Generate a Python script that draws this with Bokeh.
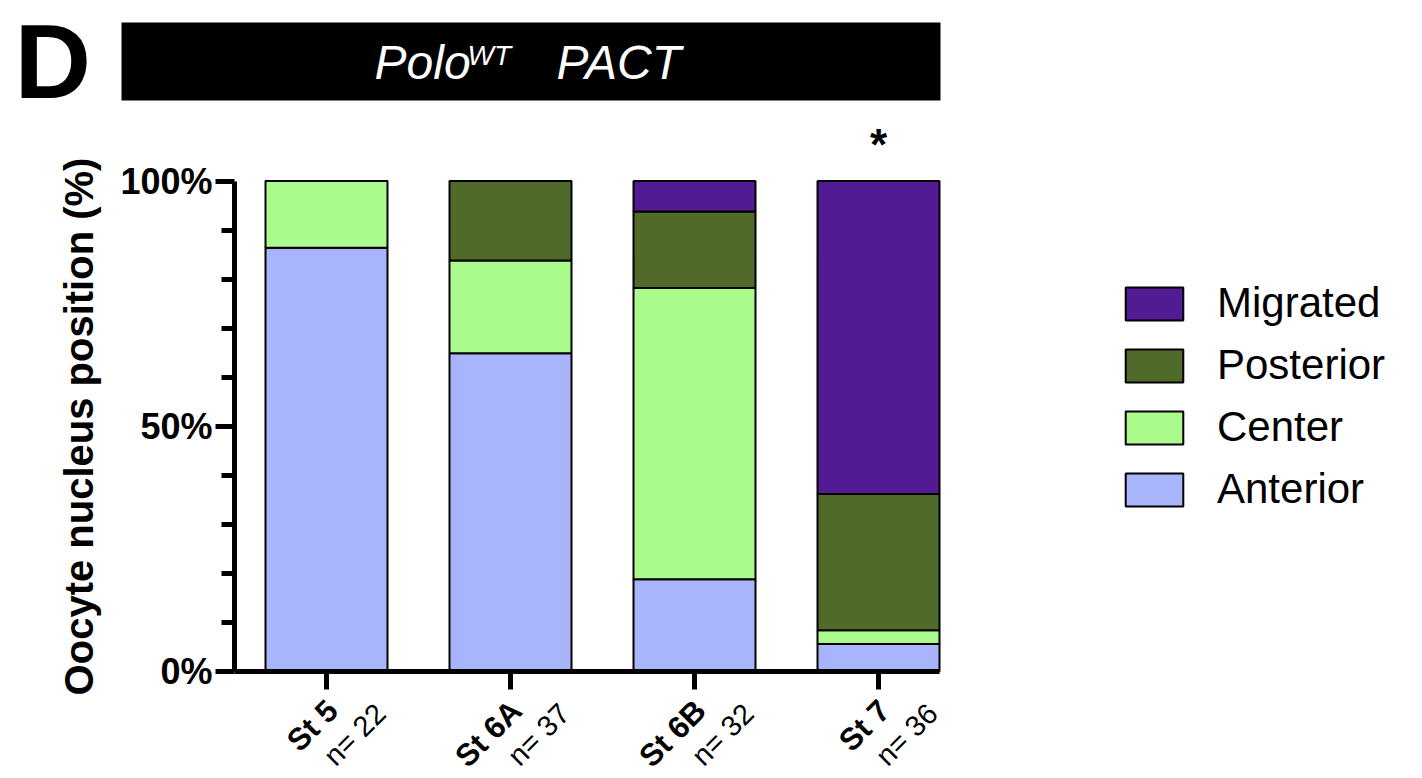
import math
from bokeh.plotting import figure
from bokeh.models import (ColumnDataSource, Range1d, FixedTicker, Label, Legend,
                          LegendItem, LinearAxis)
from bokeh.embed import file_html
from bokeh.resources import INLINE

# ---------------- data ----------------
stages = ["St 5", "St 6A", "St 6B", "St 7"]
n_counts = [22, 37, 32, 36]
categories = ["Anterior", "Center", "Posterior", "Migrated"]
anterior = [86.4, 64.9, 18.8, 5.6]
center = [13.6, 18.9, 59.4, 2.8]
posterior = [0.0, 16.2, 15.6, 27.8]
migrated = [0.0, 0.0, 6.2, 63.8]
y_ticks = [0, 50, 100]
y_tick_labels = ["0%", "50%", "100%"]
y_minor = [10, 20, 30, 40, 60, 70, 80, 90]
significance = ["", "", "", "*"]
colors = ["#a8b5fd", "#aafb8c", "#4f6a29", "#531b93"]

FONT = "Liberation Sans"
W, H = 1422, 778

# layout constants (pixel geometry of the plotting area)
X0_PX, XPX = 234.0, 184.0      # x = 0 position and pixels per category
Y0_PX, YPX = 671.0, 4.905      # y = 0 position and pixels per percent


def dx(px):
    return (px - X0_PX) / XPX


def dy(py):
    return (Y0_PX - py) / YPX


xs = [i + 0.5 for i in range(len(stages))]
bar_w = 0.663
x_end = xs[-1] + bar_w / 2

src = ColumnDataSource(dict(x=xs, Anterior=anterior, Center=center,
                            Posterior=posterior, Migrated=migrated))

p = figure(width=W, height=H, output_backend="svg", toolbar_location=None,
           x_range=Range1d(dx(0), dx(W)), y_range=Range1d(dy(H), dy(0)),
           x_axis_location=None, y_axis_location=None, min_border=0)
p.outline_line_color = None
p.grid.visible = False
p.background_fill_color = "white"
p.border_fill_color = "white"


def lab(x, y, text, size, color="black", style="normal", align="left", **kw):
    return Label(x=x, y=y, text=text, text_font=FONT, text_font_size=size,
                 text_font_style=style, text_color=color, text_align=align,
                 text_baseline="middle", **kw)


# header banner
p.quad(left=dx(121), right=dx(940), top=dy(22), bottom=dy(100),
       fill_color="black", line_color=None)
p.add_layout(lab(dx(14), dy(60), "D", "106px", style="bold"))
p.add_layout(lab(dx(374), dy(62), "Polo", "48px", color="white", style="italic"))
p.add_layout(lab(dx(467), dy(55), "WT", "28px", color="white", style="italic"))
p.add_layout(lab(dx(556), dy(62), "PACT", "48px", color="white", style="italic"))

renderers = p.vbar_stack(categories, x="x", width=bar_w, source=src,
                         fill_color=colors, line_color="black", line_width=2)

# y axis
ya = LinearAxis(fixed_location=0, bounds=(0, 100))
ya.ticker = FixedTicker(ticks=y_ticks, minor_ticks=y_minor)
ya.major_label_overrides = {t: l for t, l in zip(y_ticks, y_tick_labels)}
ya.major_label_text_font = FONT
ya.major_label_text_font_size = "36px"
ya.major_label_text_font_style = "bold"
ya.major_label_text_color = "black"
ya.major_label_standoff = 3
ya.axis_line_width = 5
ya.axis_line_color = "black"
ya.major_tick_line_width = 5
ya.minor_tick_line_width = 5
ya.major_tick_out = 19
ya.major_tick_in = 0
ya.minor_tick_out = 13
ya.minor_tick_in = 0
ya.axis_label = "Oocyte nucleus position (%)"
ya.axis_label_text_font = FONT
ya.axis_label_text_font_size = "40px"
ya.axis_label_text_font_style = "bold"
ya.axis_label_text_color = "black"
ya.axis_label_standoff = 16
p.add_layout(ya, "left")

# x axis
xa = LinearAxis(fixed_location=0, bounds=(0, x_end))
xa.ticker = FixedTicker(ticks=xs, minor_ticks=[])
xa.major_label_overrides = {x: "" for x in xs}
xa.axis_line_width = 5
xa.axis_line_color = "black"
xa.major_tick_line_width = 5
xa.major_tick_out = 18
xa.major_tick_in = 0
xa.minor_tick_line_color = None
p.add_layout(xa, "below")

# category labels (two lines, rotated 45 degrees)
for xv, st, n in zip(xs, stages, n_counts):
    p.add_layout(lab(xv, 0, st, "31px", style="bold", align="right",
                     x_offset=6, y_offset=-34, angle=math.pi / 4))
    p.add_layout(lab(xv, 0, f"n= {n}", "29px", align="right",
                     x_offset=54, y_offset=-37, angle=math.pi / 4))

# significance stars
for xv, s in zip(xs, significance):
    if s:
        p.add_layout(lab(xv, 100, s, "44px", style="bold", align="center",
                         y_offset=37))

# legend
items = [LegendItem(label=c, renderers=[r]) for c, r in zip(categories, renderers)][::-1]
legend = Legend(items=items, location=(1118, 264), padding=0, margin=0,
                glyph_width=72, glyph_height=41, label_standoff=27, spacing=12,
                label_height=50,
                label_text_font=FONT, label_text_font_size="42px",
                label_text_color="black", border_line_color=None,
                background_fill_color=None)
p.add_layout(legend, "center")

open("out.html", "w").write(file_html(p, INLINE))
